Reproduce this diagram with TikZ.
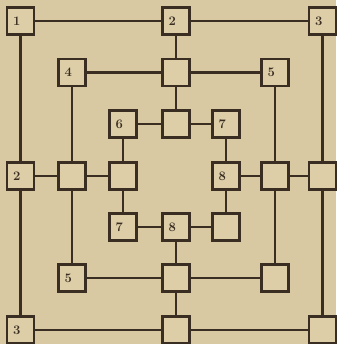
\documentclass[tikz,border=0pt]{standalone}
\usepackage{xcolor}
\definecolor{boardpaper}{HTML}{D9C9A2}
\definecolor{boardink}{HTML}{3A2E22}
\definecolor{boardcell}{HTML}{DDCEA8}

\begin{document}
\begin{tikzpicture}[
  x=1pt,
  y=-1pt,
  every node/.style={font=\fontsize{13}{13}\selectfont\bfseries, boardink},
  cell/.style={draw=boardink, fill=boardcell, line width=2.4pt,
    minimum size=27pt, inner sep=0pt, text width=15pt, align=left},
  link/.style={boardink, line width=2.2pt}
]
  % ---- paper -----------------------------------------------------------
  \fill[boardpaper] (0,0) rectangle (336,344);
  \useasboundingbox (0,0) rectangle (336,344);

  % ---- outer ring ------------------------------------------------------
  \node[cell] (oTL) at (20.5,21)  {1};
  \node[cell] (oT)  at (176,21)   {2};
  \node[cell] (oTR) at (322.5,21) {3};
  \node[cell] (oL)  at (20.5,176) {2};
  \node[cell] (oR)  at (322.5,176) {};
  \node[cell] (oBL) at (20.5,330) {3};
  \node[cell] (oB)  at (176,330)  {};
  \node[cell] (oBR) at (322.5,330) {};

  % ---- middle ring -----------------------------------------------------
  \node[cell] (mTL) at (72,72.5)  {4};
  \node[cell] (mT)  at (176,72.5) {};
  \node[cell] (mTR) at (275,72.5) {5};
  \node[cell] (mL)  at (72,176)   {};
  \node[cell] (mR)  at (275,176)  {};
  \node[cell] (mBL) at (72,278)   {5};
  \node[cell] (mB)  at (176,278)  {};
  \node[cell] (mBR) at (275,278)  {};

  % ---- inner ring ------------------------------------------------------
  \node[cell] (iTL) at (123,124) {6};
  \node[cell] (iT)  at (176,124) {};
  \node[cell] (iTR) at (226,124) {7};
  \node[cell] (iL)  at (123,176) {};
  \node[cell] (iR)  at (226,176) {8};
  \node[cell] (iBL) at (123,227) {7};
  \node[cell] (iB)  at (176,227) {8};
  \node[cell] (iBR) at (226,227) {};

  % ---- the three squares ----------------------------------------------
  \draw[link] (oTL) -- (oT) (oT) -- (oTR) (oTR) -- (oR) (oR) -- (oBR)
              (oBR) -- (oB) (oB) -- (oBL) (oBL) -- (oL) (oL) -- (oTL);
  \draw[link] (mTL) -- (mT) (mT) -- (mTR) (mTR) -- (mR) (mR) -- (mBR)
              (mBR) -- (mB) (mB) -- (mBL) (mBL) -- (mL) (mL) -- (mTL);
  \draw[link] (iTL) -- (iT) (iT) -- (iTR) (iTR) -- (iR) (iR) -- (iBR)
              (iBR) -- (iB) (iB) -- (iBL) (iBL) -- (iL) (iL) -- (iTL);

  % ---- cross links -----------------------------------------------------
  \draw[link] (oT) -- (mT) (mT) -- (iT);
  \draw[link] (oL) -- (mL) (mL) -- (iL);
  \draw[link] (oR) -- (mR) (mR) -- (iR);
  \draw[link] (oB) -- (mB) (mB) -- (iB);
\end{tikzpicture}
\end{document}
